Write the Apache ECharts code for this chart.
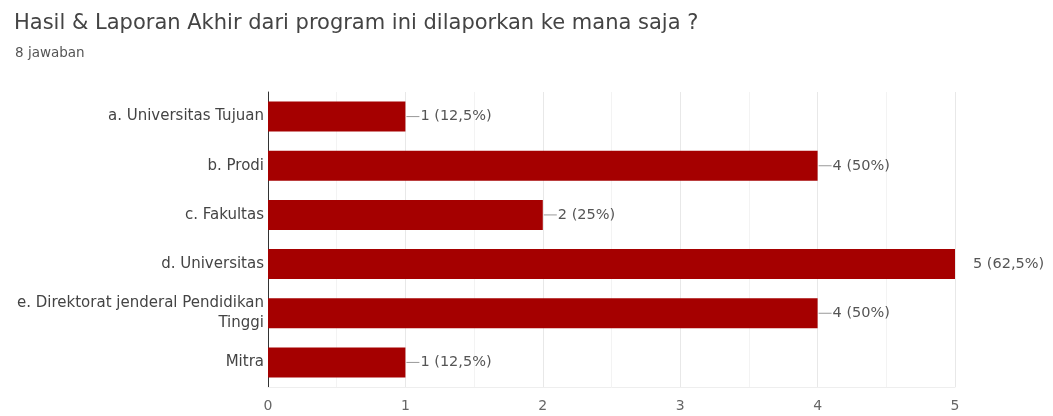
<!DOCTYPE html>
<html><head><meta charset="utf-8">
<script src="https://cdn.jsdelivr.net/npm/echarts@6/dist/echarts.min.js"></script>
<style>html,body{margin:0;padding:0;background:#fff}#c{width:1053px;height:416px}</style>
</head><body><div id="c"></div>
<script>
const categories = ['a. Universitas Tujuan','b. Prodi','c. Fakultas','d. Universitas','e. Direktorat jenderal Pendidikan\nTinggi','Mitra'];
const counts = [1,4,2,5,4,1];
const percents = ['12,5%','50%','25%','62,5%','50%','12,5%'];
const xTicks = [0,1,2,3,4,5];

const FONT = '"DejaVu Sans", sans-serif';
const chart = echarts.init(document.getElementById('c'));
const data = counts.map((v,i)=>{
  const full = v === Math.max(...xTicks);
  return {
    value: v,
    label: {
      show: true, position: 'right', distance: full ? 17 : 1,
      formatter: full ? '{t|' + v + ' (' + percents[i] + ')}' : '{l|}{t|' + v + ' (' + percents[i] + ')}',
      rich: {
        l: {width: 13, height: 1, backgroundColor: '#999'},
        t: {fontSize: 14.5, color: '#555', fontFamily: FONT, padding:[0,0,0,1]}
      }
    }
  };
});
chart.setOption({
  animation: false,
  title: [
    {text: 'Hasil & Laporan Akhir dari program ini dilaporkan ke mana saja ?', left: 9, top: 8,
     textStyle: {fontSize: 21, fontWeight: 'normal', color: '#444', fontFamily: FONT}},
    {text: '8 jawaban', left: 10, top: 41,
     textStyle: {fontSize: 13.5, fontWeight: 'normal', color: '#555', fontFamily: FONT}}
  ],
  grid: {left: 268, right: 98, top: 92, bottom: 29, containLabel: false},
  xAxis: {
    type: 'value', min: 0, max: 5, interval: 1,
    axisLine: {show: true, lineStyle: {color: '#eee'}},
    axisTick: {show: false},
    axisLabel: {color: '#666', fontSize: 14, margin: 12, fontFamily: FONT},
    splitLine: {show: true, lineStyle: {color: '#e8e8e8'}},
    minorTick: {show: false, splitNumber: 2},
    minorSplitLine: {show: true, lineStyle: {color: '#f3f3f3'}}
  },
  yAxis: {
    type: 'category', data: categories, inverse: true,
    axisLine: {show: true, lineStyle: {color: '#333'}},
    axisTick: {show: false},
    axisLabel: {color: '#444', fontSize: 15, margin: 4, lineHeight: 20, fontFamily: FONT}
  },
  series: [{
    type: 'bar', data: data, barWidth: 30,
    itemStyle: {color: '#a50000'}
  }]
});
</script></body></html>
